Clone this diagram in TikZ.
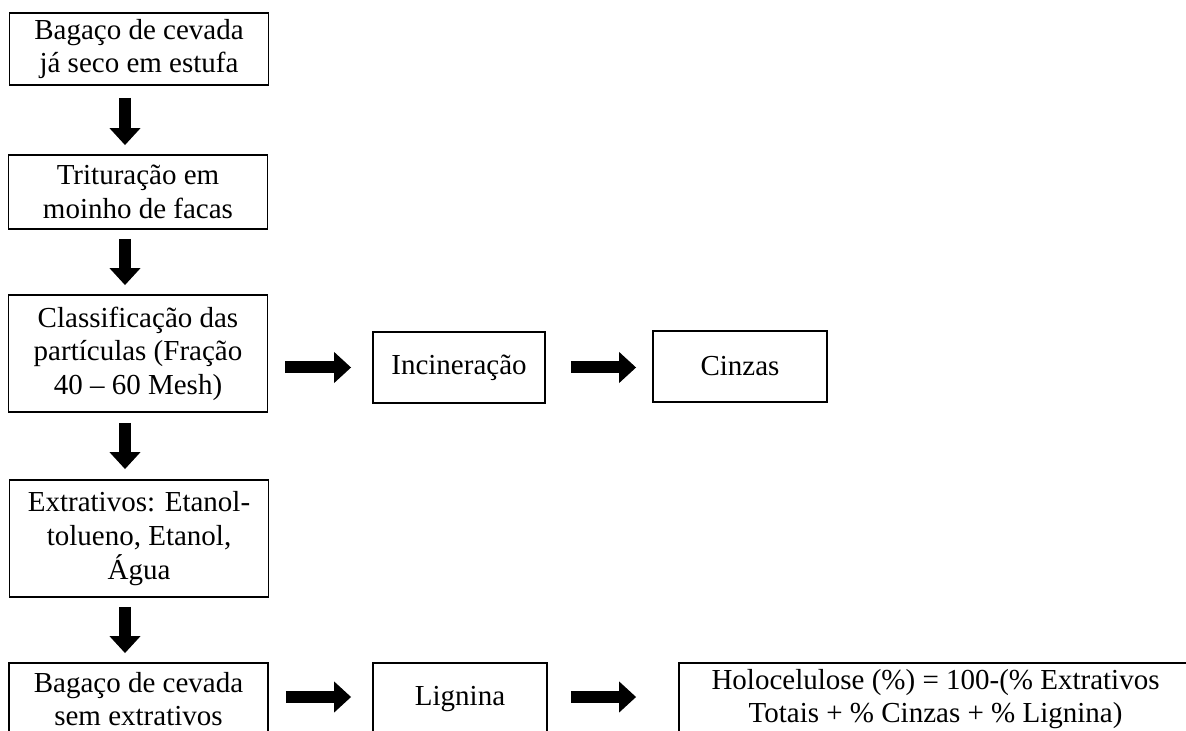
\documentclass[tikz,border=0pt]{standalone}
\usepackage{fontspec}
\setmainfont{Liberation Serif}
\usetikzlibrary{arrows.meta}

\begin{document}
\begin{tikzpicture}[x=0.5pt, y=-0.5pt,
  etapa/.style={draw, line width=0.9pt, align=center, inner sep=2pt,
                minimum width=129.5pt, minimum height=36pt,
                font=\fontsize{14.5}{16.8}\selectfont},
  seta/.style={line width=6pt, -{Triangle[width=15pt,length=8.5pt]},
               shorten <=4.5pt, shorten >=4.5pt}]
\useasboundingbox (0,0) rectangle (1186,731);
% coluna principal
\node[etapa] (seco) at (139,49) {Bagaço de cevada\\já seco em estufa};
\node[etapa, minimum height=37pt] (trit) at (138,192) {Trituração em\\moinho de facas};
\node[etapa, minimum height=58.5pt] (class) at (138,353.5) {Classificação das\\partículas (Fração\\40 -- 60 Mesh)};
\node[etapa, minimum height=58.5pt] (extr) at (139,538.5) {Extrativos: Etanol-\\tolueno, Etanol,\\Água};
\node[etapa] (semex) at (138.5,699) {Bagaço de cevada\\sem extrativos};
% ramos
\node[etapa, minimum width=86pt, minimum height=35.5pt] (incin) at (459,367.5) {Incineração};
\node[etapa, minimum width=87pt, minimum height=35.5pt] (cinz) at (740,366.5) {Cinzas};
\node[etapa, minimum width=87pt] (lign) at (460,699) {Lignina};
\node[etapa, minimum width=256.5pt] (holo) at (935.5,699) {Holocelulose (\%) = 100-(\% Extrativos\\Totais + \% Cinzas + \% Lignina)};
% setas
\draw[seta, shorten <=6pt] ([xshift=-7pt]seco.south) -- ([xshift=-7pt]seco.south |- trit.north);
\draw[seta] ([xshift=-7pt]seco.south |- trit.south) -- ([xshift=-7pt]seco.south |- class.north);
\draw[seta, shorten <=5pt, shorten >=5pt] ([xshift=-7pt]seco.south |- class.south) -- ([xshift=-7pt]seco.south |- extr.north);
\draw[seta] ([xshift=-7pt]seco.south |- extr.south) -- ([xshift=-7pt]seco.south |- semex.north);
\draw[seta, shorten <=8.5pt, shorten >=10.5pt] (class.east |- incin.west) -- (incin.west);
\draw[seta, shorten <=12.5pt, shorten >=8pt] (incin.east) -- (incin.east -| cinz.west);
\draw[seta, shorten <=8.5pt, shorten >=10.5pt] ([yshift=1pt]semex.east) -- ([yshift=1pt]lign.west);
\draw[seta, shorten <=11.5pt, shorten >=21pt] ([yshift=1pt]lign.east) -- ([yshift=1pt]holo.west);
\end{tikzpicture}
\end{document}
